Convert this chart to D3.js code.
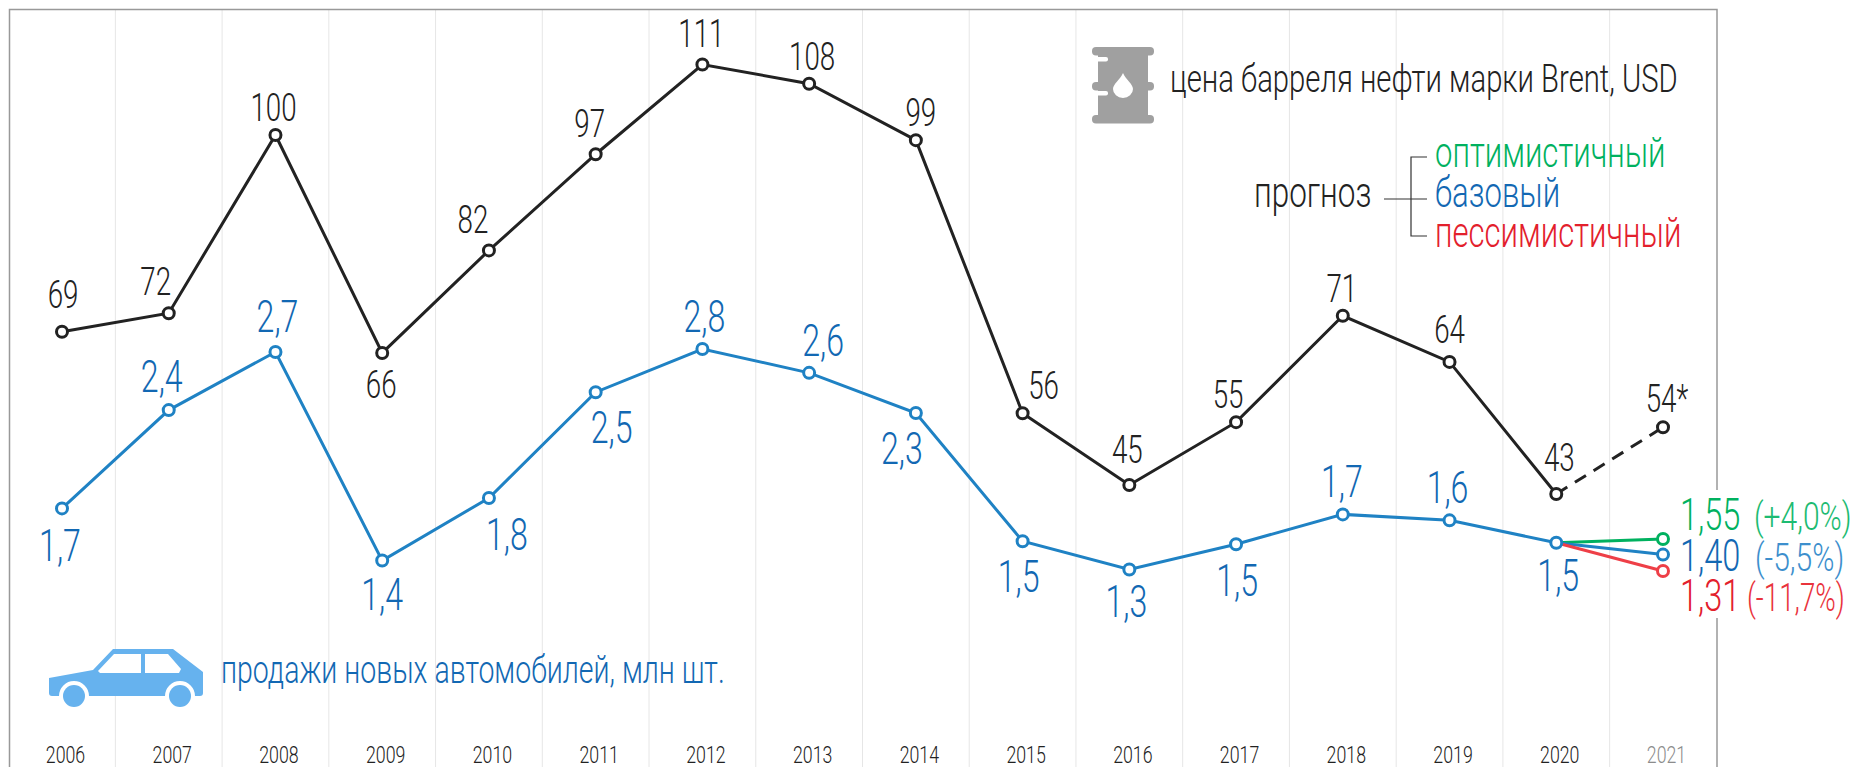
<!DOCTYPE html>
<html>
<head>
<meta charset="utf-8">
<script src="https://d3js.org/d3.v7.min.js"></script>
<style>
    html, body { margin: 0; padding: 0; background: #fff; overflow: hidden; }
    svg { display: block; font-family: Roboto, "Noto Sans", sans-serif; font-weight: 300; }
    .grid { stroke: #e6e6e6; stroke-width: 1; }
    .frame { stroke: #999; stroke-width: 1.5; fill: none; }
    .line { fill: none; stroke-width: 3; }
</style>
</head>
<body>
<div id="chart"></div>
<script>
// data
var years = [2006, 2007, 2008, 2009, 2010, 2011, 2012, 2013, 2014, 2015, 2016, 2017, 2018, 2019, 2020];
var forecastYear = 2021;

var oilValues = [69.3, 72.2, 100, 66, 82, 97, 111, 108, 99.2, 56.6, 45.4, 55.2, 71.8, 64.6, 44];
var oilForecast = 54.4;
var oilLabels = ["69", "72", "100", "66", "82", "97", "111", "108", "99", "56", "45", "55", "71", "64", "43"];
var oilForecastLabel = "54*";

var salesValues = [1.73, 2.39, 2.78, 1.38, 1.80, 2.51, 2.80, 2.64, 2.37, 1.51, 1.32, 1.49, 1.69, 1.65, 1.50];
var salesLabels = ["1,7", "2,4", "2,7", "1,4", "1,8", "2,5", "2,8", "2,6", "2,3", "1,5", "1,3", "1,5", "1,7", "1,6", "1,5"];

var scenarioNames = ["оптимистичный", "базовый", "пессимистичный"];
var scenarioValues = [1.525, 1.42, 1.31];
var scenarioLabels = ["1,55", "1,40", "1,31"];
var scenarioChanges = ["(+4,0%)", "(-5,5%)", "(-11,7%)"];

// label offsets from their point [dx, dy to baseline]
var oilLabelOffset = [[1, -24], [-13, -18], [-2, -14], [-1, 45], [-16, -17], [-6, -17], [-1, -18], [3, -14], [5, -14], [21, -14], [-2, -22], [-8, -14], [-1, -14], [0, -19], [3, -23]];
var salesLabelOffset = [[-2, 53], [-7, -18], [2, -20], [0, 49], [18, 52], [16, 51], [2, -17], [14, -17], [-14, 51], [-4, 51], [-3, 47], [1, 52], [-1, -17], [-2, -17], [2, 48]];

var colorOil = "#222";
var colorLine = "#1f82c4";
var colorBlue = "#1268b3";
var colorGreen = "#00b15f";
var colorRed = "#e3202c";
var colorCar = "#66b2ee";
var scenarioColors = [colorGreen, "#1f82c4", "#ee3f47"];
var scenarioTextColors = [colorGreen, colorBlue, colorRed];
var changeColors = ["#1dbb72", "#3d8fcd", "#e9333c"];

var width = 1854, height = 767;

var svg = d3.select("#chart").append("svg")
    .attr("width", width)
    .attr("height", height);

var x = d3.scaleLinear().domain([2006, 2021]).range([62, 1663]);
var yOil = d3.scaleLinear().domain([0, 111]).range([776, 64.5]);
var ySales = d3.scaleLinear().domain([1.31, 2.8]).range([571, 349]);

// the original type is a condensed one, so every label gets squeezed by sx
function label(px, py, text, size, color, sx, anchor) {
    return svg.append("text")
        .attr("transform", "translate(" + px + "," + py + ") scale(" + sx + ",1)")
        .attr("text-anchor", anchor || "middle")
        .attr("fill", color)
        .style("font-size", size + "px")
        .text(text);
}

/* gridlines and frame */
svg.selectAll(".grid")
    .data(d3.range(2006.5, 2021, 1)).enter()
    .append("line")
    .attr("class", "grid")
    .attr("x1", d => x(d)).attr("x2", d => x(d))
    .attr("y1", 10).attr("y2", height);

svg.append("path")
    .attr("class", "frame")
    .attr("d", "M9.5,767V9.5H1717V767");

// gap in the frame behind the forecast numbers
svg.append("rect")
    .attr("x", 1680).attr("y", 490)
    .attr("width", 174).attr("height", 128)
    .attr("fill", "#fff");

/* year axis */
var axis = d3.axisBottom(x)
    .tickValues(years.concat([forecastYear]))
    .tickFormat(d3.format("d"))
    .tickSize(0);

var axisG = svg.append("g")
    .attr("transform", "translate(0,763)")
    .call(axis);
axisG.select(".domain").remove();
axisG.selectAll("text")
    .attr("y", 0).attr("dy", 0)
    .attr("transform", "translate(3,0) scale(0.74,1)")
    .attr("fill", d => d === forecastYear ? "#8c8c8c" : colorOil)
    .style("font-size", "24px")
    .style("font-family", "Roboto")
    .style("font-weight", 300);

/* lines */
var oilLine = d3.line().x(d => x(d.year)).y(d => yOil(d.value));
var salesLine = d3.line().x(d => x(d.year)).y(d => ySales(d.value));

var oilData = years.map((y, i) => ({year: y, value: oilValues[i]}));
var salesData = years.map((y, i) => ({year: y, value: salesValues[i]}));
var lastYear = years[years.length - 1];
var lastOil = oilValues[oilValues.length - 1];
var lastSales = salesValues[salesValues.length - 1];

svg.append("path")
    .attr("class", "line")
    .attr("stroke", colorOil)
    .attr("d", oilLine(oilData));

svg.append("path")
    .attr("class", "line")
    .attr("stroke", colorOil)
    .attr("stroke-dasharray", "13,9")
    .attr("d", oilLine([{year: lastYear, value: lastOil}, {year: forecastYear, value: oilForecast}]));

svg.append("path")
    .attr("class", "line")
    .attr("stroke", colorLine)
    .attr("d", salesLine(salesData));

scenarioValues.forEach(function(v, i) {
    svg.append("path")
        .attr("class", "line")
        .attr("stroke", scenarioColors[i])
        .attr("d", salesLine([{year: lastYear, value: lastSales}, {year: forecastYear, value: v}]));
});

/* points */
function dots(data, yScale, color) {
    svg.append("g").selectAll("circle")
        .data(data).enter()
        .append("circle")
        .attr("cx", d => x(d.year))
        .attr("cy", d => yScale(d.value))
        .attr("r", 5.5)
        .attr("fill", "#fff")
        .attr("stroke", color)
        .attr("stroke-width", 3);
}
dots(oilData.concat([{year: forecastYear, value: oilForecast}]), yOil, colorOil);
dots(salesData, ySales, colorLine);
scenarioValues.forEach(function(v, i) {
    dots([{year: forecastYear, value: v}], ySales, scenarioColors[i]);
});

/* value labels */
oilData.forEach(function(d, i) {
    label(x(d.year) + oilLabelOffset[i][0], yOil(d.value) + oilLabelOffset[i][1], oilLabels[i], 38, colorOil, 0.73);
});
label(x(forecastYear) + 4, yOil(oilForecast) - 15, oilForecastLabel, 38, colorOil, 0.73);

salesData.forEach(function(d, i) {
    label(x(d.year) + salesLabelOffset[i][0], ySales(d.value) + salesLabelOffset[i][1], salesLabels[i], 44, colorBlue, 0.73);
});

/* forecast numbers at the right */
var scenarioBase = [530, 571, 611];
var changeStart = [1754, 1755, 1747];
var changeSqueeze = [0.79, 0.79, 0.73];
scenarioLabels.forEach(function(t, i) {
    label(1680, scenarioBase[i], t, 44, scenarioTextColors[i], 0.74, "start");
    label(changeStart[i], scenarioBase[i], scenarioChanges[i], 38, changeColors[i], changeSqueeze[i], "start");
});

/* legend: oil */
var barrel = svg.append("g").attr("fill", "#a0a0a0");
[[1092, 47], [1092, 115]].forEach(function(p) {
    barrel.append("rect").attr("x", p[0]).attr("y", p[1])
        .attr("width", 62).attr("height", 8.5).attr("rx", 4);
});
barrel.append("rect").attr("x", 1098).attr("y", 50).attr("width", 50).attr("height", 70);
barrel.append("rect").attr("x", 1092).attr("y", 82).attr("width", 62).attr("height", 8.5).attr("rx", 4);
barrel.append("rect").attr("x", 1092).attr("y", 57).attr("width", 16).attr("height", 4.5).attr("rx", 2).attr("fill", "#fff");
barrel.append("rect").attr("x", 1092).attr("y", 91).attr("width", 16).attr("height", 4.5).attr("rx", 2).attr("fill", "#fff");
barrel.append("path")
    .attr("fill", "#fff")
    .attr("d", "M1123,73C1126,80 1133,84 1133,89A10,9 0 0 1 1113,89C1113,84 1120,80 1123,73Z");

label(1170, 92, "цена барреля нефти марки Brent, USD", 38, colorOil, 0.77, "start");

/* legend: forecast scenarios */
label(1254, 207, "прогноз", 42, colorOil, 0.75, "start");
svg.append("path")
    .attr("fill", "none")
    .attr("stroke", "#333")
    .attr("stroke-width", 1.2)
    .attr("d", "M1427,157H1411V236H1427M1384,199H1427");
var scenarioBaseLegend = [167, 207, 247];
scenarioNames.forEach(function(t, i) {
    label(1435, scenarioBaseLegend[i], t, 42, scenarioTextColors[i], 0.74, "start");
});

/* legend: car */
var car = svg.append("g");
car.append("path")
    .attr("fill", colorCar)
    .attr("d", "M49,678L93,670L113,649H173L203,672V693Q203,696 200,696H195A15,15 0 0 0 165,696H89A15,15 0 0 0 59,696H52Q49,696 49,693Z");
car.append("circle").attr("cx", 74).attr("cy", 696).attr("r", 11).attr("fill", colorCar);
car.append("circle").attr("cx", 180).attr("cy", 696).attr("r", 11).attr("fill", colorCar);
car.append("path")
    .attr("fill", "#fff")
    .attr("d", "M98,671L114,654H141V673H100ZM145,654H168L181,669L179,673H145Z");

label(221, 683, "продажи новых автомобилей, млн шт.", 38, colorBlue, 0.75, "start");
</script>
</body>
</html>
